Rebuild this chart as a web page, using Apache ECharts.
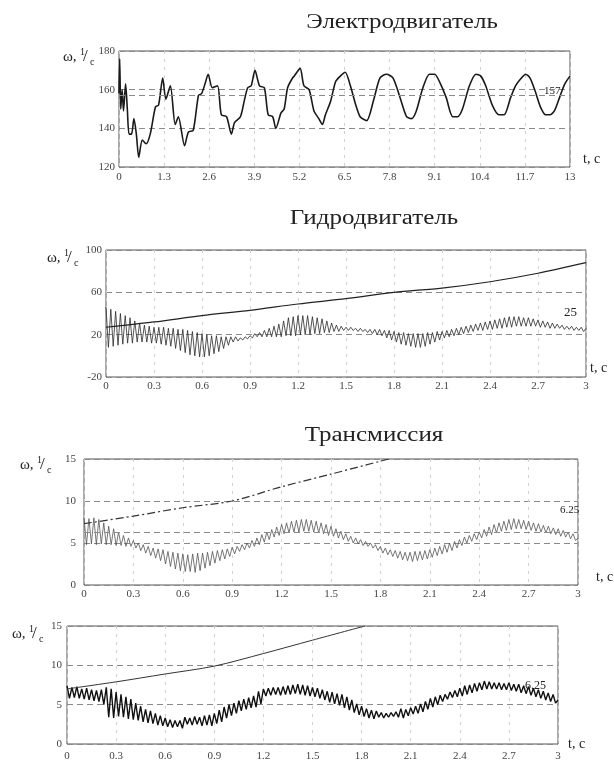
<!DOCTYPE html>
<html>
<head>
<meta charset="utf-8">
<script src="https://cdn.jsdelivr.net/npm/echarts@6/dist/echarts.min.js"></script>
<style>
html,body{margin:0;padding:0;background:#fff;}
#chart{width:614px;height:762px;}
</style>
</head>
<body>
<div id="chart"></div>
<script>
// ---------- DATA ----------
// Chart 1: Электродвигатель
const motorT = [0,0.02,0.05,0.09,0.13,0.19,0.24,0.29,0.36,0.43,0.5,0.57,0.67,0.78,0.9,1.05,1.14,1.26,1.35,1.48,1.62,1.71,1.89,2.0,2.14,2.29,2.38,2.48,2.57,2.69,2.84,2.95,3.1,3.24,3.33,3.5,3.62,3.71,3.81,3.92,4.05,4.19,4.3,4.43,4.52,4.67,4.76,4.86,5.0,5.05,5.22,5.33,5.48,5.62,5.76,5.86,5.95,6.1,6.24,6.38,6.52,6.67,6.81,6.95,7.14,7.33,7.52,7.71,7.9,8.1,8.29,8.43,8.57,8.76,8.95,9.1,9.24,9.43,9.62,9.76,9.9,10.1,10.29,10.43,10.57,10.76,10.95,11.1,11.29,11.43,11.6,11.72,11.85,12.0,12.15,12.3,12.42,12.55,12.7,12.85,13.0];
const motorW = [158,176,150,160,149,163,150,137,137,145,137,125,134,132,137,151,152,166,155,162,142,146,131,138,139,157,158,163,168,161,162,147,146,137,143,146,155,161,162,170,162,161,147,146,140,148,150,161,166,167,171,162,160,149,145,142,147,154,164,167,169,162,153,146,144,154,166,168,166,156,146,145,149,161,168,168,164,156,146,146,150,162,168,167,162,152,147,147,156,162,166,168,166,159,151,147,147,149,156,163,167];
const motorTicks = ['0','1.3','2.6','3.9','5.2','6.5','7.8','9.1','10.4','11.7','13'];
const motorNominal = 157;

// Common time ticks for charts 2-4
const shortTicks = ['0','0.3','0.6','0.9','1.2','1.5','1.8','2.1','2.4','2.7','3'];
const sampleStep = 0.015; // time between successive samples of the oscillating traces

// Chart 2: Гидродвигатель
const hydroRiseT = [0,0.3,0.6,0.9,1.2,1.5,1.8,2.1,2.4,2.7,3.0];
const hydroRiseW = [27,32,38,43,49,54,60,64,70,78,88];
const hydroOsc = [
46,8, 44,9, 42,10, 40,11, 38,12, 36,12, 33,13, 31,13, 29,13, 28,12,
27,12, 27,11, 27,10, 26,9, 26,7, 25,5, 25,3, 24,1, 23,0, 22,-1,
21,-1, 20,0, 19,2, 19,4, 18,7, 18,10, 18,13, 18,14, 17,15, 18,16,
19,17, 21,18, 22,18, 24,18, 26,18, 28,18, 30,18, 33,19, 36,19, 37,19,
38,20, 38,20, 38,20, 37,21, 36,21, 35,22, 33,22, 31,23, 29,23, 28,24,
27,24, 27,24, 26,23, 26,23, 25,22, 25,21, 25,20, 25,19, 24,17, 24,15,
23,13, 22,11, 22,10, 21,9, 21,8, 21,8, 21,9, 22,11, 22,13, 23,15,
23,17, 24,18, 25,19, 26,20, 27,21, 28,22, 29,23, 30,24, 31,24, 32,25,
33,25, 34,26, 35,26, 36,27, 37,27, 37,28, 37,28, 36,28, 36,28, 35,28,
34,27, 33,27, 32,26, 31,26, 30,26, 29,25, 28,25, 28,24, 27,24, 27,23,
26];
const hydroNominal = '25';

// Chart 3: Трансмиссия
const transRiseT = [0,0.3,0.6,0.9,1.2,1.5,1.85];
const transRiseW = [7.3,8.2,9.2,10.0,11.7,13.2,15];
const transOsc = [
8.0,4.8, 7.9,4.9, 8.0,4.8, 7.8,4.9, 7.4,4.8, 7.0,4.8, 6.7,4.7, 6.3,4.7, 5.9,4.6, 5.6,4.6,
5.3,4.4, 5.0,4.1, 4.8,3.8, 4.6,3.5, 4.4,3.2, 4.3,2.9, 4.2,2.5, 4.0,2.2, 3.9,1.9, 3.8,1.7,
3.7,1.6, 3.6,1.6, 3.7,1.5, 3.8,1.7, 3.8,2.0, 3.9,2.3, 4.0,2.6, 4.1,2.9, 4.2,3.1, 4.3,3.4,
4.5,3.7, 4.6,4.0, 4.8,4.2, 5.0,4.4, 5.3,4.6, 5.6,4.8, 6.0,5.1, 6.3,5.4, 6.6,5.7, 6.9,5.9,
7.2,6.1, 7.4,6.2, 7.6,6.3, 7.7,6.3, 7.8,6.4, 7.8,6.4, 7.7,6.3, 7.6,6.2, 7.4,6.1, 7.2,5.9,
7.0,5.8, 6.7,5.6, 6.4,5.4, 6.1,5.2, 5.8,5.0, 5.6,4.9, 5.4,4.7, 5.2,4.6, 5.0,4.4, 4.8,4.1,
4.6,3.8, 4.4,3.6, 4.2,3.4, 4.1,3.2, 4.0,3.0, 3.9,2.9, 3.9,2.8, 4.0,2.9, 4.0,3.0, 4.1,3.1,
4.2,3.3, 4.4,3.5, 4.6,3.7, 4.8,3.9, 5.0,4.1, 5.2,4.4, 5.4,4.7, 5.7,5.0, 5.9,5.2, 6.1,5.4,
6.3,5.6, 6.6,5.8, 6.9,6.0, 7.2,6.2, 7.4,6.4, 7.6,6.5, 7.8,6.6, 7.9,6.7, 7.8,6.7, 7.7,6.6,
7.6,6.5, 7.4,6.4, 7.3,6.3, 7.1,6.2, 7.0,6.1, 6.8,6.0, 6.7,5.8, 6.5,5.7, 6.3,5.5, 6.1,5.3,
5.6];
const transNominal = 6.25;

// Chart 4: (без заголовка)
const gearRiseT = [0,0.3,0.6,0.9,1.2,1.5,1.82];
const gearRiseW = [7.0,7.9,8.9,9.9,11.5,13.2,15];
const gearOsc = [
7.4,5.8, 7.2,5.9, 7.3,5.8, 7.0,5.7, 7.1,5.6, 6.9,5.5, 6.8,5.4, 6.9,5.0, 7.2,3.4, 7.0,3.3,
6.6,3.5, 6.3,3.4, 6.0,3.2, 5.7,3.1, 5.2,3.0, 4.8,2.8, 4.4,2.7, 4.2,2.6, 3.9,2.4, 3.6,2.3,
3.3,2.2, 3.1,2.1, 3.0,2.2, 3.0,2.0, 3.4,2.5, 3.3,2.4, 3.5,2.5, 3.4,2.3, 3.6,2.4, 3.7,2.3,
3.9,2.6, 4.3,2.8, 4.7,3.3, 5.0,3.6, 5.2,3.9, 5.5,4.2, 5.7,4.4, 5.9,4.6, 6.1,4.7, 6.7,5.1,
7.0,6.1, 7.1,6.2, 7.2,6.3, 7.2,6.2, 7.3,6.3, 7.4,6.3, 7.5,6.4, 7.6,6.3, 7.5,6.2, 7.4,6.1,
7.2,6.0, 7.1,5.8, 6.9,5.6, 6.7,5.3, 6.6,5.1, 6.4,4.9, 6.3,4.6, 6.0,4.3, 5.6,4.0, 5.1,3.7,
4.8,3.5, 4.5,3.3, 4.3,3.2, 4.2,3.4, 4.0,3.3, 3.9,3.4, 4.0,3.5, 4.1,3.4, 4.5,3.3, 4.4,3.6,
4.6,3.8, 4.8,3.9, 5.1,4.1, 5.4,4.4, 5.8,4.7, 6.0,5.0, 6.2,5.4, 6.3,5.7, 6.6,5.9, 6.8,6.0,
7.1,6.1, 7.4,6.3, 7.5,6.5, 7.7,6.7, 7.8,6.9, 8.0,7.0, 7.9,7.0, 7.8,7.0, 7.8,6.9, 7.7,6.9,
7.8,6.8, 7.6,6.7, 7.6,6.5, 7.4,6.4, 7.3,6.2, 7.1,6.0, 6.9,5.8, 6.7,5.6, 6.5,5.4, 6.3,5.2,
5.6];
const gearNominal = '6.25';

const titles = ['Электродвигатель', 'Гидродвигатель', 'Трансмиссия'];

// ---------- CHART ----------
const SERIF = '"Liberation Serif", "DejaVu Serif", serif';
const pairs = (ts, ws) => ts.map((t, i) => [t, ws[i]]);
const sampled = arr => arr.map((v, i) => [+(i * sampleStep).toFixed(4), v]);

const grids = [
  {left: 119, top: 51, width: 451, height: 116},
  {left: 106, top: 250, width: 480, height: 127},
  {left: 84, top: 459, width: 494, height: 126},
  {left: 67, top: 626, width: 491, height: 126}
].map(g => Object.assign({show: true, borderColor: '#555', borderWidth: 1, backgroundColor: 'transparent'}, g));

function xAx(i, max, interval, ticks, margin) {
  return {
    type: 'value', gridIndex: i, min: 0, max: max, interval: interval,
    axisLine: {show: false}, axisTick: {show: false},
    axisLabel: {color: '#444', fontFamily: SERIF, fontSize: 11, margin: margin,
      formatter: v => ticks[Math.round(v / interval)] ?? ''},
    splitLine: {show: true, lineStyle: {color: '#d0d0d0', type: [3, 5], width: 1}}
  };
}
function yAx(i, min, max, interval, margin) {
  return {
    type: 'value', gridIndex: i, min: min, max: max, interval: interval,
    axisLine: {show: false}, axisTick: {show: false},
    axisLabel: {color: '#444', fontFamily: SERIF, fontSize: 11, margin: margin},
    splitLine: {show: true, lineStyle: {color: '#8a8a8a', type: [6, 4], width: 1}}
  };
}

function omega(x, y) {
  return [
    {type: 'text', x: x, y: y, style: {text: 'ω,', font: '15px ' + SERIF, fill: '#222', textVerticalAlign: 'middle'}},
    {type: 'text', x: x + 17, y: y - 5, style: {text: '1', font: '10px ' + SERIF, fill: '#222', textVerticalAlign: 'middle'}},
    {type: 'text', x: x + 20, y: y, style: {text: '/', font: '17px ' + SERIF, fill: '#222', textVerticalAlign: 'middle'}},
    {type: 'text', x: x + 27, y: y + 5, style: {text: 'c', font: '10px ' + SERIF, fill: '#222', textVerticalAlign: 'middle'}}
  ];
}
function txt(s, x, y, size, align, sx) {
  return {type: 'text', x: x, y: y, scaleX: sx || 1, style: {text: s, font: size + 'px ' + SERIF, fill: '#222',
    textAlign: align || 'left', textVerticalAlign: 'middle'}};
}

const dashedMark = v => ({
  silent: true, symbol: 'none', label: {show: false},
  lineStyle: {color: '#8a8a8a', type: [6, 4], width: 1},
  data: [{yAxis: v}]
});

const option = {
  animation: false,
  backgroundColor: '#fff',
  grid: grids,
  xAxis: [
    xAx(0, 13, 1.3, motorTicks, 5),
    xAx(1, 3, 0.3, shortTicks, 4),
    xAx(2, 3, 0.3, shortTicks, 4),
    xAx(3, 3, 0.3, shortTicks, 7)
  ],
  yAxis: [
    yAx(0, 120, 180, 20, 4),
    yAx(1, -20, 100, 40, 4),
    yAx(2, 0, 15, 5, 8),
    yAx(3, 0, 15, 5, 5)
  ],
  series: [
    {type: 'line', xAxisIndex: 0, yAxisIndex: 0, data: pairs(motorT, motorW), smooth: 0.25,
      showSymbol: false, lineStyle: {color: '#1a1a1a', width: 1.6}, markLine: dashedMark(motorNominal)},
    {type: 'line', xAxisIndex: 1, yAxisIndex: 1, data: sampled(hydroOsc),
      showSymbol: false, lineStyle: {color: '#2a2a2a', width: 0.8}},
    {type: 'line', xAxisIndex: 1, yAxisIndex: 1, data: pairs(hydroRiseT, hydroRiseW), smooth: 0.3,
      showSymbol: false, lineStyle: {color: '#222', width: 1.2}},
    {type: 'line', xAxisIndex: 2, yAxisIndex: 2, data: sampled(transOsc),
      showSymbol: false, lineStyle: {color: '#555', width: 0.8}, markLine: dashedMark(transNominal)},
    {type: 'line', xAxisIndex: 2, yAxisIndex: 2, data: pairs(transRiseT, transRiseW), smooth: 0.3,
      showSymbol: false, lineStyle: {color: '#333', width: 1.2, type: [8, 3, 2, 3]}},
    {type: 'line', xAxisIndex: 3, yAxisIndex: 3, data: sampled(gearOsc),
      showSymbol: false, lineStyle: {color: '#111', width: 1.4}},
    {type: 'line', xAxisIndex: 3, yAxisIndex: 3, data: pairs(gearRiseT, gearRiseW), smooth: 0.3,
      showSymbol: false, lineStyle: {color: '#333', width: 1}}
  ],
  graphic: [].concat(
    [txt(titles[0], 402, 23, 20, 'center', 1.25), txt(titles[1], 374, 219, 20, 'center', 1.25), txt(titles[2], 374, 436, 20, 'center', 1.25)],
    omega(63, 57), omega(47, 258), omega(20, 465), omega(12, 634),
    [txt('t, c', 583, 159, 14), txt('t, c', 590, 368, 14), txt('t, c', 596, 577, 14), txt('t, c', 568, 744, 14)],
    [txt(String(motorNominal), 544, 91, 11), txt(hydroNominal, 564, 313, 13), txt(String(transNominal), 560, 510, 11), txt(gearNominal, 525, 686, 12)]
  )
};

const chart = echarts.init(document.getElementById('chart'), null, {renderer: 'canvas'});
chart.setOption(option);
</script>
</body>
</html>
